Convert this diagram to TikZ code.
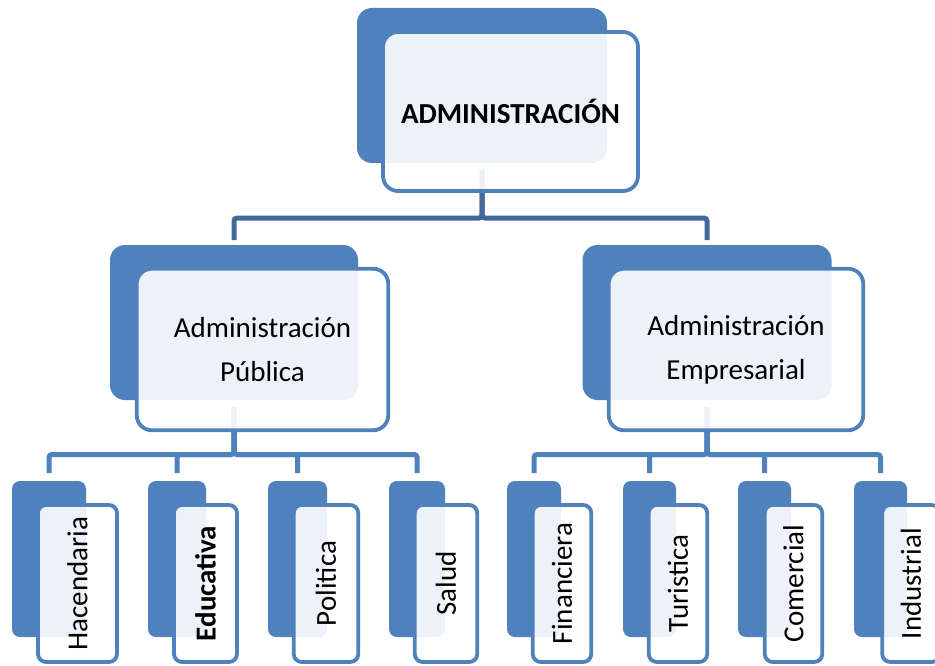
\documentclass[tikz,border=0pt]{standalone}
\usepackage{fontspec}
\setmainfont{Carlito}
\definecolor{accent}{HTML}{4F81BD}
\definecolor{accentdark}{HTML}{41699C}
\pgfdeclarelayer{backdrop}
\pgfdeclarelayer{bg}
\pgfsetlayers{backdrop,bg,main}
\tikzset{
  backbox/.style={fill=accent, draw=none, inner sep=0pt, outer sep=0pt, rounded corners=#1},
  backbox/.default=8pt,
  frontbox/.style={draw=accent, line width=3.8pt, fill=white, fill opacity=0.9, text opacity=1,
    rounded corners=#1, inner sep=0pt, outer sep=0pt, align=center, text=black,
    font=\fontsize{29}{44}\selectfont},
  frontbox/.default=8pt,
  smallfront/.style={frontbox, rotate=90, minimum width=157pt},
  smallback/.style={backbox, minimum height=156pt},
  conn/.style={draw=accent, line width=5pt, rounded corners=3pt, shorten <=7pt, shorten >=8pt},
  topconn/.style={conn, draw=accentdark, shorten >=5pt},
}
\begin{document}
\begin{tikzpicture}[x=1pt, y=-1pt]
\clip (0,0) rectangle (935,666);

% top level
\node[backbox=15pt, minimum width=250pt, minimum height=155pt] (topB) at (482,85.5) {};
\node[frontbox=15pt, minimum width=255pt, minimum height=159pt, font=\bfseries\fontsize{29}{44}\selectfont] (topF) at (510.5,111.5) {ADMINISTRACIÓN};

% second level
\node[backbox=15pt, minimum width=248pt, minimum height=155pt] (pubB) at (234,322.5) {};
\node[frontbox=15pt, minimum width=251.5pt, minimum height=161.5pt] (pubF) at (262.5,349.5) {Administración\\Pública};
\node[backbox=15pt, minimum width=249pt, minimum height=155pt] (empB) at (707,322.5) {};
\node[frontbox=15pt, minimum width=254.5pt, minimum height=161.5pt] (empF) at (736,349.5) {Administración\\Empresarial};

% third level: back boxes
\node[smallback, minimum width=74pt] (hacB) at (49,559) {};
\node[smallback, minimum width=58pt] (eduB) at (177,559) {};
\node[smallback, minimum width=59pt] (polB) at (297.5,559) {};
\node[smallback, minimum width=56pt] (salB) at (417,559) {};
\node[smallback, minimum width=54pt] (finB) at (534,559) {};
\node[smallback, minimum width=53pt] (turB) at (649.5,559) {};
\node[smallback, minimum width=53pt] (comB) at (764.5,559) {};
\node[smallback, minimum width=53pt] (indB) at (880.5,559) {};

% third level: front boxes
\node[smallfront, minimum height=79pt] (hacF) at (77.5,583.5) {Hacendaria};
\node[smallfront, minimum height=63pt, font=\bfseries\fontsize{29}{44}\selectfont] (eduF) at (205.5,583.5) {Educativa};
\node[smallfront, minimum height=64.5pt] (polF) at (326,583.5) {Politica};
\node[smallfront, minimum height=62.5pt] (salF) at (446,583.5) {Salud};
\node[smallfront, minimum height=58.5pt] (finF) at (562,583.5) {Financiera};
\node[smallfront, minimum height=58.5pt] (turF) at (678,583.5) {Turistica};
\node[smallfront, minimum height=57.5pt] (comF) at (793.5,583.5) {Comercial};
\node[smallfront, minimum height=57.5pt] (indF) at (911,583.5) {Industrial};

% junction levels
\coordinate (j0) at (0,218);
\coordinate (j1) at (0,454.5);

\begin{pgfonlayer}{backdrop}
\fill[white] (0,0) rectangle (935,666);
\end{pgfonlayer}
\begin{pgfonlayer}{bg}
\draw[topconn] (topB.south) -- (topB.south |- j0) -| (pubB.north);
\draw[topconn] (topB.south) -- (topB.south |- j0) -| (empB.north);
\foreach \c in {hacB,eduB,polB,salB}
  \draw[conn] (pubB.south) -- (pubB.south |- j1) -| (\c.north);
\foreach \c in {finB,turB,comB,indB}
  \draw[conn] (empB.south) -- (empB.south |- j1) -| (\c.north);
\end{pgfonlayer}
\end{tikzpicture}
\end{document}
